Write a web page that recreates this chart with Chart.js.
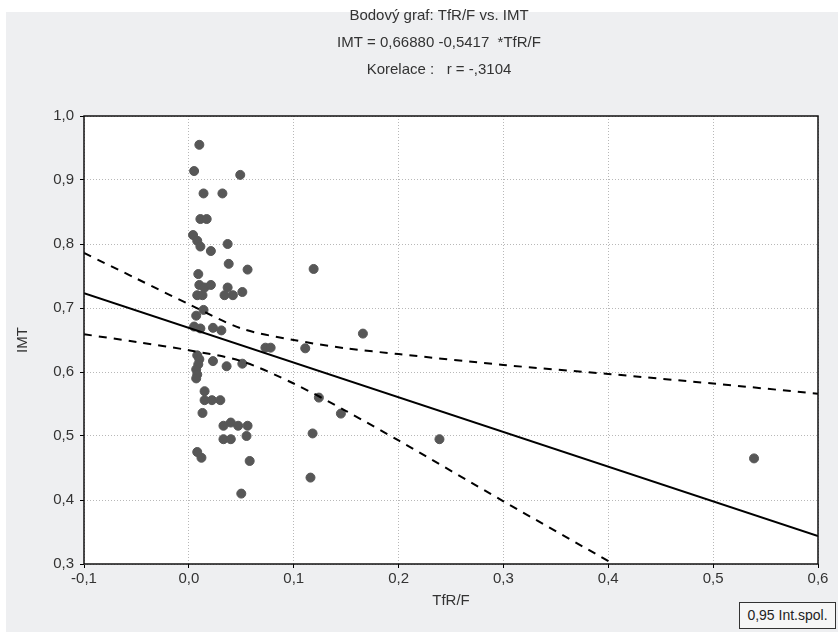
<!DOCTYPE html>
<html>
<head>
<meta charset="utf-8">
<script src="https://cdn.jsdelivr.net/npm/chart.js@4.4.1/dist/chart.umd.min.js"></script>
<style>
  html, body { margin: 0; padding: 0; background: #fff; }
  #wrap { position: relative; width: 838px; height: 632px; overflow: hidden; }
  #panel { position: absolute; left: 6px; top: 12px; right: 0; bottom: 0; background: #eeeff1; }
  #c { position: absolute; left: 0; top: 0; }
  #legend {
    position: absolute; left: 739px; top: 602px; width: 97px; height: 27px;
    border: 1px solid #333; background: #f6f6f6; box-sizing: border-box;
    font: 14px "Liberation Sans", Arial, sans-serif;
    color: #222; line-height: 25px; text-align: center;
  }
</style>
</head>
<body>
<div id="wrap">
  <div id="panel"></div>
  <canvas id="c" width="838" height="632"></canvas>
  <div id="legend">0,95 Int.spol.</div>
</div>
<script>
// TfR/F (x) a IMT (y) - body z grafu
var tfrf = [0.010, 0.005, 0.049, 0.014, 0.032, 0.011, 0.017, 0.004, 0.008, 0.011,
            0.021, 0.037, 0.038, 0.056, 0.009, 0.010, 0.015, 0.021, 0.037, 0.008,
            0.013, 0.034, 0.042, 0.051, 0.014, 0.007, 0.005, 0.011, 0.023, 0.031,
            0.073, 0.078, 0.008, 0.010, 0.009, 0.007, 0.008, 0.007, 0.023, 0.036,
            0.051, 0.015, 0.015, 0.022, 0.030, 0.013, 0.033, 0.040, 0.047, 0.056,
            0.033, 0.040, 0.055, 0.008, 0.012, 0.058, 0.050, 0.166, 0.111, 0.124,
            0.145, 0.118, 0.239, 0.116, 0.119, 0.539];
var imt  = [0.955, 0.914, 0.908, 0.879, 0.879, 0.839, 0.839, 0.814, 0.805, 0.796,
            0.789, 0.800, 0.769, 0.760, 0.753, 0.736, 0.732, 0.736, 0.732, 0.720,
            0.720, 0.720, 0.720, 0.725, 0.697, 0.688, 0.671, 0.668, 0.669, 0.665,
            0.638, 0.638, 0.626, 0.620, 0.612, 0.604, 0.596, 0.590, 0.617, 0.609,
            0.613, 0.570, 0.556, 0.556, 0.556, 0.536, 0.516, 0.521, 0.516, 0.516,
            0.495, 0.495, 0.500, 0.475, 0.466, 0.461, 0.410, 0.660, 0.637, 0.560,
            0.535, 0.504, 0.495, 0.435, 0.761, 0.465];

// regresni primka IMT = 0,66880 - 0,5417*TfR/F
var lineX = [-0.1, 0.6];
var lineY = [0.7230, 0.3438];

// 95% interval spolehlivosti
var upperX = [-0.1, -0.05, 0.0, 0.05, 0.1, 0.15, 0.2, 0.3, 0.4, 0.5, 0.6];
var upperY = [0.786, 0.746, 0.706, 0.668, 0.650, 0.637, 0.628, 0.611, 0.597, 0.582, 0.566];
var lowerX = [-0.1, -0.05, 0.0, 0.05, 0.1, 0.15, 0.2, 0.3, 0.405];
var lowerY = [0.659, 0.647, 0.634, 0.617, 0.582, 0.539, 0.493, 0.398, 0.300];

var xTicks = [-0.1, 0.0, 0.1, 0.2, 0.3, 0.4, 0.5, 0.6];
var yTicks = [0.3, 0.4, 0.5, 0.6, 0.7, 0.8, 0.9, 1.0];

var titleLines = ['Bodový graf: TfR/F vs. IMT', 'IMT = 0,66880 -0,5417  *TfR/F', 'Korelace :   r = -,3104'];

function pts(xs, ys) {
  return xs.map(function (x, i) { return { x: x, y: ys[i] }; });
}
function czech(v) { return v.toFixed(1).replace('.', ','); }

var font = '"Liberation Sans", Arial, sans-serif';

// bile pozadi a ramecek grafu + nadpis
var plotBox = {
  id: 'plotBox',
  beforeDraw: function (chart) {
    var a = chart.chartArea, c = chart.ctx;
    c.save();
    c.fillStyle = '#ffffff';
    c.fillRect(a.left, a.top, a.right - a.left, a.bottom - a.top);
    c.restore();
  },
  afterDraw: function (chart) {
    var a = chart.chartArea, c = chart.ctx;
    c.save();
    c.strokeStyle = '#111';
    c.lineWidth = 1.5;
    c.strokeRect(a.left, a.top, a.right - a.left, a.bottom - a.top);
    c.fillStyle = '#333';
    c.font = '15px ' + font;
    c.textAlign = 'center';
    c.textBaseline = 'middle';
    titleLines.forEach(function (t, i) {
      c.fillText(t, 439, 16 + i * 27);
    });
    c.restore();
  }
};

var ctx = document.getElementById('c').getContext('2d');
var myChart = new Chart(ctx, {
  type: 'scatter',
  data: {
    datasets: [{
      label: 'IMT',
      data: pts(tfrf, imt),
      backgroundColor: '#575757',
      borderColor: '#575757',
      pointRadius: 4.5,
      pointHoverRadius: 4.5,
      order: 2
    }, {
      label: 'regrese',
      type: 'line',
      data: pts(lineX, lineY),
      borderColor: '#000',
      borderWidth: 2,
      pointRadius: 0,
      fill: false,
      order: 1
    }, {
      label: 'horni',
      type: 'line',
      data: pts(upperX, upperY),
      borderColor: '#000',
      borderWidth: 2,
      borderDash: [8, 7],
      pointRadius: 0,
      tension: 0.3,
      fill: false,
      order: 1
    }, {
      label: 'dolni',
      type: 'line',
      data: pts(lowerX, lowerY),
      borderColor: '#000',
      borderWidth: 2,
      borderDash: [8, 7],
      pointRadius: 0,
      tension: 0.3,
      fill: false,
      order: 1
    }]
  },
  options: {
    responsive: false,
    animation: false,
    layout: { padding: { top: 116, left: 0, right: 20, bottom: 0 } },
    plugins: {
      legend: { display: false },
      tooltip: { enabled: false },
      title: { display: false }
    },
    scales: {
      x: {
        type: 'linear',
        min: -0.1, max: 0.6,
        afterBuildTicks: function (s) { s.ticks = xTicks.map(function (v) { return { value: v }; }); },
        afterFit: function (s) { s.height = 68; },
        ticks: { color: '#333', font: { family: font, size: 15 }, padding: 2, callback: czech },
        grid: { color: '#b8b8b8', tickLength: 4, tickColor: '#000', tickBorderDash: [] },
        border: { display: false, dash: [1, 2] },
        title: { display: true, text: 'TfR/F', color: '#333', font: { family: font, size: 15 }, padding: { top: 4, bottom: 22 } }
      },
      y: {
        type: 'linear',
        min: 0.3, max: 1.0,
        afterBuildTicks: function (s) { s.ticks = yTicks.map(function (v) { return { value: v }; }); },
        afterFit: function (s) { s.width = 84; },
        ticks: { color: '#333', font: { family: font, size: 15 }, padding: 6, callback: czech },
        grid: { color: '#b8b8b8', tickLength: 4, tickColor: '#000', tickBorderDash: [] },
        border: { display: false, dash: [1, 2] },
        title: { display: true, text: 'IMT', color: '#333', font: { family: font, size: 15 }, padding: { top: 14, bottom: 0 } }
      }
    }
  },
  plugins: [plotBox]
});
</script>
</body>
</html>
